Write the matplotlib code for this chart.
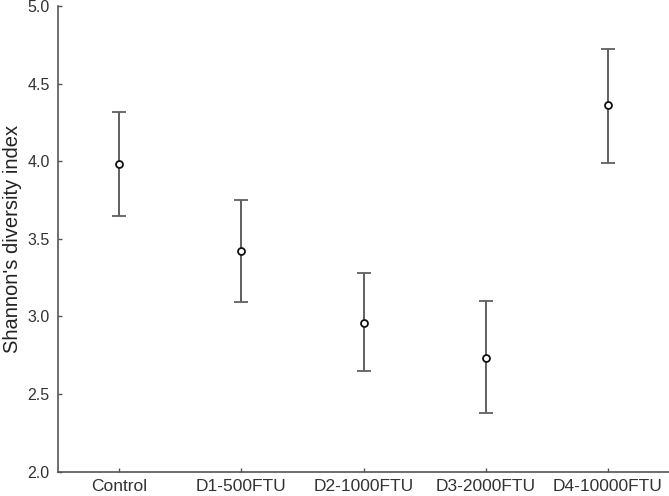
import matplotlib
matplotlib.use("Agg")
import matplotlib.pyplot as plt

groups = ["Control", "D1-500FTU", "D2-1000FTU", "D3-2000FTU", "D4-10000FTU"]
means = [3.98, 3.42, 2.96, 2.73, 4.36]
upper = [4.32, 3.75, 3.28, 3.10, 4.72]
lower = [3.65, 3.09, 2.65, 2.38, 3.99]

plt.rcParams["font.family"] = ["Liberation Sans", "DejaVu Sans"]


def main():
    fig = plt.figure(figsize=(6.69, 4.96), dpi=100)
    ax = fig.add_axes([0.087, 0.049, 0.913, 0.939])

    x = list(range(len(groups)))
    yerr = [[m - lo for m, lo in zip(means, lower)],
            [hi - m for m, hi in zip(means, upper)]]
    ax.errorbar(x, means, yerr=yerr, fmt="o", color="#5a5a5a", ecolor="#606060",
                elinewidth=1.4, capsize=4.8, capthick=1.4,
                markersize=5, markerfacecolor="white", markeredgecolor="#111111",
                markeredgewidth=1.3)

    ax.set_xlim(-0.5, 4.5)
    ax.set_ylim(2.0, 5.0)
    ax.set_xticks(x)
    ax.set_xticklabels(groups, fontsize=12.5)
    ax.set_yticks([2.0, 2.5, 3.0, 3.5, 4.0, 4.5, 5.0])
    ax.set_yticklabels(["2.0", "2.5", "3.0", "3.5", "4.0", "4.5", "5.0"], fontsize=11.5)
    ax.set_ylabel("Shannon's diversity index", fontsize=14.5, color="#222222", labelpad=4)

    ax.tick_params(axis="both", direction="in", length=3, width=1,
                   color="#555555", labelcolor="#333333")
    ax.tick_params(axis="x", pad=5)
    ax.tick_params(axis="y", pad=6)
    for side in ("top", "right"):
        ax.spines[side].set_visible(False)
    for side in ("left", "bottom"):
        ax.spines[side].set_color("#555555")
        ax.spines[side].set_linewidth(1.2)

    fig.savefig("out.png", dpi=100)


if __name__ == "__main__":
    main()
